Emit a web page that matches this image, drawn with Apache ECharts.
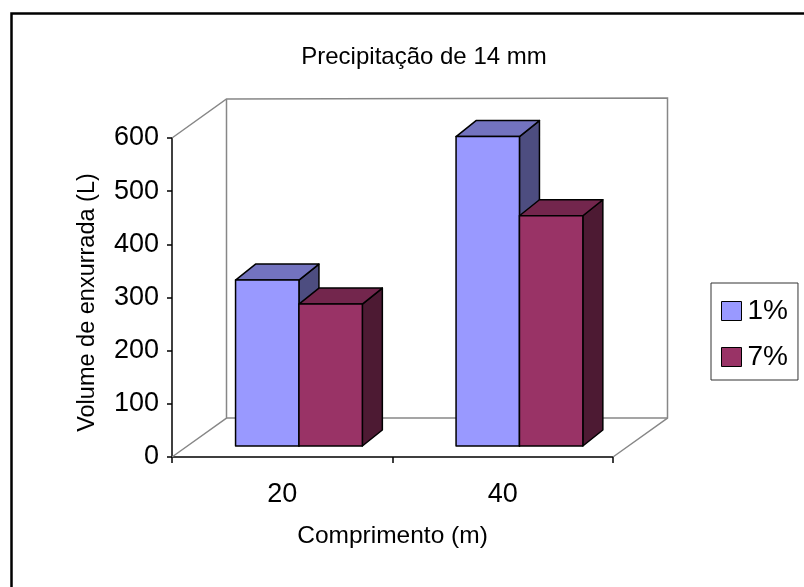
<!DOCTYPE html>
<html>
<head>
<meta charset="utf-8">
<script src="https://cdn.jsdelivr.net/npm/echarts@6/dist/echarts.min.js"></script>
<style>
  html, body { margin: 0; padding: 0; background: #ffffff; }
  #chart { width: 804px; height: 587px; }
</style>
</head>
<body>
<div id="chart"></div>
<script>
// ---- data ----
const categories = ['20', '40'];
const seriesNames = ['1%', '7%'];
const values1pct = [312, 582];
const values7pct = [267, 433];
const yMin = 0, yMax = 600, yStep = 100;

// ---- styling ----
const FONT = '"Liberation Sans", Arial, sans-serif';
// oblique projection of the chart box and the columns (pixels)
const WALL_DX = 54.5, WALL_DY = -39;
const BAR_FRONT_DX = 16.7, BAR_FRONT_DY = -11;
const BAR_DEPTH_DX = 20, BAR_DEPTH_DY = -16;
const BAR_BAND_RATIO = 0.2875;

const faceColors = [
  { front: '#9999FF', top: '#7373BF', side: '#4D4D80' },
  { front: '#993366', top: '#73264D', side: '#4D1A33' }
];

function columnRenderer(seriesIdx) {
  return function (params, api) {
    const cat = api.value(0);
    const v = api.value(1);
    const base = api.coord([cat, 0]);
    const head = api.coord([cat, v]);
    const band = api.size([1, 0])[0];
    const w = band * BAR_BAND_RATIO;
    const x0 = base[0] - w + BAR_FRONT_DX + seriesIdx * w;
    const x1 = x0 + w;
    const yb = base[1] + BAR_FRONT_DY;
    const yt = head[1] + BAR_FRONT_DY;
    const dx = BAR_DEPTH_DX, dy = BAR_DEPTH_DY;
    const c = faceColors[seriesIdx];
    const edge = { stroke: '#000000', lineWidth: 1.5, lineJoin: 'round' };
    return {
      type: 'group',
      children: [
        { type: 'polygon', shape: { points: [[x1, yt], [x1 + dx, yt + dy], [x1 + dx, yb + dy], [x1, yb]] },
          style: Object.assign({ fill: c.side }, edge) },
        { type: 'polygon', shape: { points: [[x0, yt], [x0 + dx, yt + dy], [x1 + dx, yt + dy], [x1, yt]] },
          style: Object.assign({ fill: c.top }, edge) },
        { type: 'rect', shape: { x: x0, y: yt, width: w, height: yb - yt },
          style: Object.assign({ fill: c.front }, edge) }
      ]
    };
  };
}

// back wall, side wall and floor outlines of the 3D box
function wallRenderer(params) {
  const cs = params.coordSys;
  const x0 = cs.x, x1 = cs.x + cs.width;
  const yT = cs.y, yB = cs.y + cs.height;
  const s = { stroke: '#878787', lineWidth: 1.5, fill: null };
  return {
    type: 'group',
    children: [
      { type: 'polyline', shape: { points: [[x0, yT], [x0 + WALL_DX, yT + WALL_DY], [x1 + WALL_DX, yT + WALL_DY - 1],
        [x1 + WALL_DX, yB + WALL_DY], [x1, yB]] }, style: s },
      { type: 'polyline', shape: { points: [[x0, yB], [x0 + WALL_DX, yB + WALL_DY], [x0 + WALL_DX, yT + WALL_DY]] }, style: s },
      { type: 'line', shape: { x1: x0 + WALL_DX, y1: yB + WALL_DY, x2: x1 + WALL_DX, y2: yB + WALL_DY }, style: s }
    ]
  };
}

const chart = echarts.init(document.getElementById('chart'), null, { renderer: 'canvas' });

chart.setOption({
  animation: false,
  backgroundColor: '#ffffff',
  textStyle: { fontFamily: FONT },
  title: {
    text: 'Precipitação de 14 mm',
    left: 424,
    top: 45,
    textAlign: 'center',
    padding: 0,
    textStyle: { fontFamily: FONT, fontSize: 24, fontWeight: 'normal', color: '#000000' }
  },
  legend: {
    orient: 'vertical',
    left: 711,
    top: 283,
    padding: [14, 10, 9, 10],
    itemGap: 18,
    itemWidth: 20,
    itemHeight: 19,
    icon: 'rect',
    borderColor: '#333333',
    borderWidth: 1,
    itemStyle: { borderColor: '#000000', borderWidth: 1 },
    textStyle: { fontFamily: FONT, fontSize: 28, color: '#000000', lineHeight: 27, padding: [0, 0, 0, 1] },
    data: seriesNames
  },
  grid: { left: 172, right: 191, top: 138, bottom: 130, containLabel: false },
  xAxis: {
    type: 'category',
    data: categories,
    boundaryGap: true,
    name: 'Comprimento (m)',
    nameLocation: 'middle',
    nameGap: 67,
    nameTextStyle: { fontFamily: FONT, fontSize: 24.5, color: '#000000' },
    axisLine: { lineStyle: { color: '#000000', width: 1.5 } },
    axisTick: { show: true, length: 6, lineStyle: { color: '#000000', width: 1.5 } },
    axisLabel: { margin: 24, fontFamily: FONT, fontSize: 27, color: '#000000' },
    splitLine: { show: false }
  },
  yAxis: {
    type: 'value',
    min: yMin,
    max: yMax,
    interval: yStep,
    name: 'Volume de enxurrada (L)',
    nameLocation: 'middle',
    nameRotate: 90,
    nameGap: 72,
    nameTextStyle: { fontFamily: FONT, fontSize: 23.5, color: '#000000', padding: [0, 10, 0, 0] },
    axisLine: { show: true, lineStyle: { color: '#000000', width: 1.5 } },
    axisTick: { show: true, length: 5, lineStyle: { color: '#000000', width: 1.5 } },
    axisLabel: { margin: 13, fontFamily: FONT, fontSize: 27, color: '#000000' },
    splitLine: { show: false }
  },
  graphic: [
    { type: 'rect', left: 9, top: 11, z: -10, silent: true,
      shape: { x: 0, y: 0, width: 900, height: 700 },
      style: { fill: null, stroke: '#000000', lineWidth: 2.5 } }
  ],
  series: [
    { type: 'custom', name: '__walls', silent: true, z: 1, renderItem: wallRenderer, data: [[0, 0]] },
    { type: 'custom', name: seriesNames[0], z: 2, itemStyle: { color: faceColors[0].front },
      renderItem: columnRenderer(0),
      data: categories.map((c, i) => [i, values1pct[i]]) },
    { type: 'custom', name: seriesNames[1], z: 2, itemStyle: { color: faceColors[1].front },
      renderItem: columnRenderer(1),
      data: categories.map((c, i) => [i, values7pct[i]]) }
  ]
});
</script>
</body>
</html>
